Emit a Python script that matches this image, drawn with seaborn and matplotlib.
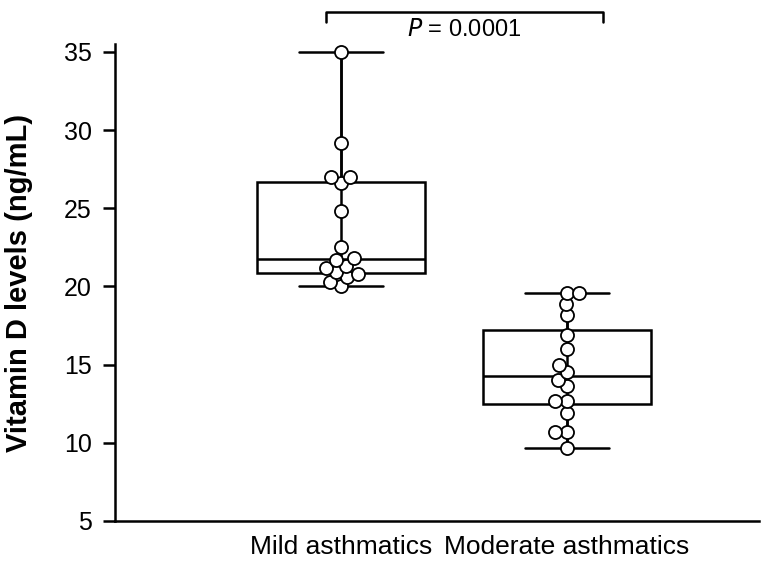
import numpy as np
import pandas as pd
import matplotlib
matplotlib.use("Agg")
import matplotlib.pyplot as plt
import seaborn as sns

groups = ["Mild asthmatics", "Moderate asthmatics"]
mild = [20.0, 20.3, 20.6, 20.8, 20.9, 21.2, 21.3, 21.7,
        21.8, 22.5, 24.8, 26.6, 27.0, 27.0, 29.2, 35.0]
moderate = [9.65, 10.7, 10.7, 11.9, 12.7, 12.7, 13.6, 14.0,
            14.5, 15.0, 16.0, 16.9, 18.2, 18.9, 19.6, 19.6]
p_text = "= 0.0001"
y_ticks = [5, 10, 15, 20, 25, 30, 35]

df = pd.DataFrame({
    "group": [groups[0]] * len(mild) + [groups[1]] * len(moderate),
    "value": mild + moderate,
})

sns.set_theme(style="ticks")
plt.rcParams["font.family"] = ["Liberation Sans", "DejaVu Sans"]
plt.rcParams["text.color"] = "black"
plt.rcParams["axes.labelcolor"] = "black"
plt.rcParams["xtick.color"] = "black"
plt.rcParams["ytick.color"] = "black"

fig = plt.figure(figsize=(7.7, 5.65), dpi=100)
ax = fig.add_axes([0.149, 0.078, 0.837, 0.844])

lw = 1.8
sns.boxplot(data=df, x="group", y="value", order=groups, whis=(0, 100),
            width=0.74, color="white", linewidth=lw, linecolor="black",
            fliersize=0, ax=ax,
            boxprops=dict(facecolor="white", edgecolor="black", zorder=2),
            medianprops=dict(color="black", linewidth=lw),
            whiskerprops=dict(color="black", linewidth=lw),
            capprops=dict(color="black", linewidth=lw))

# vertical line through each group (min to max)
for i, vals in enumerate([mild, moderate]):
    ax.vlines(i, min(vals), max(vals), color="black", linewidth=lw, zorder=3)

ax.set_xlim(-1.0, 1.85)
ax.set_ylim(5, 35.5)

n_before = len(ax.collections)
sns.swarmplot(data=df, x="group", y="value", order=groups, size=6.6,
              color="white", edgecolor="black", linewidth=1.3, ax=ax, zorder=4)
ax.set_xlim(-1.0, 1.85)
ax.set_ylim(5, 35.5)

# compute swarm layout, then freeze it and enlarge the circles (overlapping)
fig.canvas.draw()
for coll in ax.collections[n_before:]:
    if "draw" in coll.__dict__:
        del coll.draw
    coll.set_sizes([9.4 ** 2])

ax.set_yticks(y_ticks)
ax.set_xlabel("")
ax.set_ylabel("Vitamin D levels (ng/mL)", fontsize=21, fontweight="bold", labelpad=22)
ax.tick_params(axis="y", length=8.5, width=lw, labelsize=18, pad=8)
ax.tick_params(axis="x", length=0, labelsize=19, pad=10)
for s in ["top", "right"]:
    ax.spines[s].set_visible(False)
for s in ["left", "bottom"]:
    ax.spines[s].set_linewidth(lw)
    ax.spines[s].set_color("black")

# significance bracket
x0, x1 = -0.066, 1.16
yb, yd = 37.56, 36.92
ax.plot([x0, x0, x1, x1], [yd, yb, yb, yd], color="black", linewidth=lw,
        clip_on=False)
ax.text((x0 + x1) / 2, 36.4, r"$\it{P}$ " + p_text, ha="center", va="center",
        fontsize=17)

fig.savefig("out.png", dpi=100)
